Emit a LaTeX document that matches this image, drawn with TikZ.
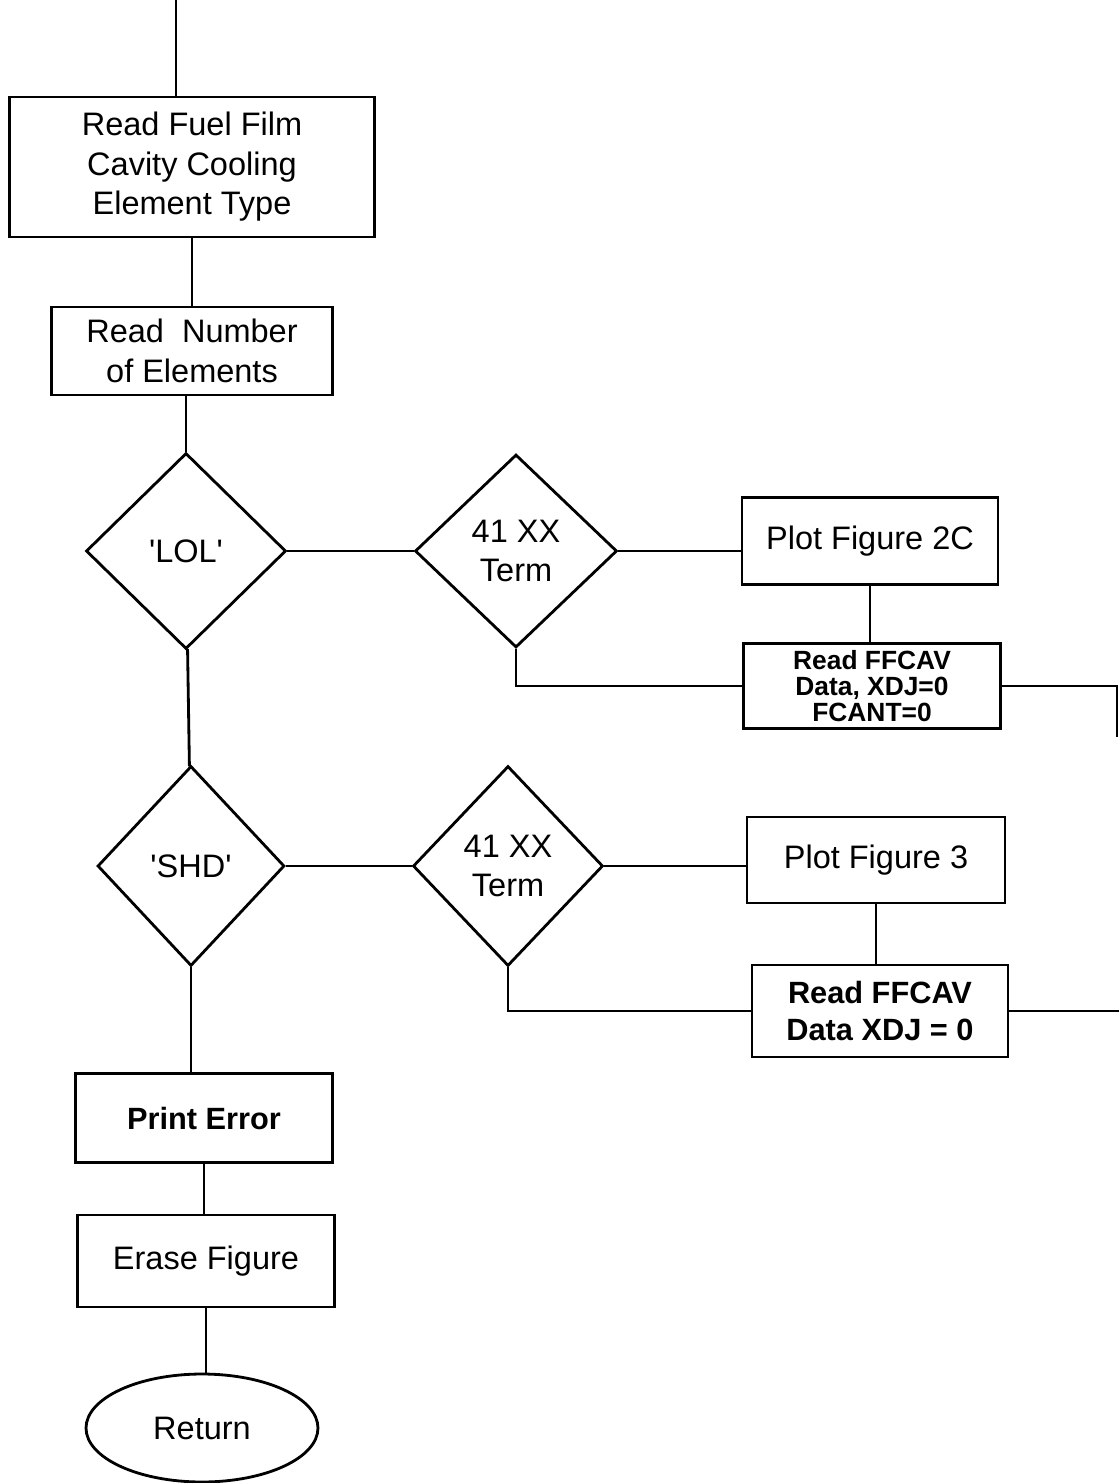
\documentclass[tikz,border=0pt]{standalone}
\usepackage{fontspec}
\setmainfont{Liberation Sans}
\usetikzlibrary{shapes.geometric}

\begin{document}
\begin{tikzpicture}[
        x=0.02cm, y=-0.02cm,
        every node/.style={font=\fontsize{18.5}{22.5}\selectfont},
        knoten/.style={draw, line width=1.6pt, inner sep=2pt, align=center},
        fett/.style={knoten, font=\bfseries\fontsize{17.5}{21.5}\selectfont},
        eng/.style={knoten, font=\bfseries\fontsize{15}{15}\selectfont, inner sep=1pt},
        raute/.style={knoten, diamond, inner sep=0pt},
        ende/.style={knoten, ellipse},
        kante/.style={draw, line width=1.6pt}
    ]
        \useasboundingbox (0,0) rectangle (1119,1483);

        \coordinate (ein) at (176,0);
        \node[knoten, minimum width=7.3cm, minimum height=2.8cm] (typ) at (192,167) {Read Fuel Film\\Cavity Cooling\\Element Type};
        \node[knoten, minimum width=5.62cm, minimum height=1.76cm] (anz) at (192,351) {Read~ Number\\of Elements};
        \node[raute, minimum width=4cm, minimum height=3.92cm] (lol) at (186,551) {\textquotesingle LOL\textquotesingle};
        \node[raute, minimum width=4.04cm, minimum height=3.86cm] (t1) at (516,551) {41 XX\\Term};
        \node[knoten, minimum width=5.12cm, minimum height=1.74cm] (p2c) at (870,541) {Plot Figure 2C};
        \node[eng, minimum width=5.14cm, minimum height=1.7cm] (rf1) at (872,686) {Read FFCAV\\Data, XDJ=0\\FCANT=0};
        \coordinate (aus1) at (1117,686);
        \coordinate (aus1u) at (1117,737);

        \node[raute, minimum width=3.74cm, minimum height=4cm] (shd) at (191,866) {\textquotesingle SHD\textquotesingle};
        \node[raute, minimum width=3.8cm, minimum height=4cm] (t2) at (508,866) {41 XX\\Term};
        \node[knoten, minimum width=5.16cm, minimum height=1.72cm] (p3) at (876,860) {Plot Figure 3};
        \node[fett, minimum width=5.12cm, minimum height=1.84cm] (rf2) at (880,1011) {Read FFCAV\\Data XDJ = 0};
        \coordinate (aus2) at (1119,1011);

        \node[fett, minimum width=5.14cm, minimum height=1.78cm] (err) at (204,1118) {Print Error};
        \node[knoten, minimum width=5.14cm, minimum height=1.84cm] (ers) at (206,1261) {Erase Figure};
        \node[ende, minimum width=4.64cm, minimum height=2.16cm] (ret) at (202,1428) {Return};

        \draw[kante] (ein) -- (ein |- typ.north);
        \draw[kante] (lol.north) -- (lol.north |- anz.south);
        \draw[kante] (lol) -- (shd);
        \foreach \a/\b in {typ/anz, shd/err, err/ers, ers/ret, p2c/rf1, p3/rf2}
            \draw[kante] (\a.south) -- (\a.south |- \b.north);
        \draw[kante] (lol) -- (t1);
        \draw[kante] (shd) -- (t2);
        \draw[kante] (t1.east) -- (t1.east -| p2c.west);
        \draw[kante] (t2.east) -- (t2.east -| p3.west);
        \draw[kante] (t1.south) |- (rf1.west);
        \draw[kante] (t2.south) |- (rf2.west);
        \draw[kante] (rf1.east) -- (aus1) -- (aus1u);
        \draw[kante] (rf2.east) -- (aus2);
    \end{tikzpicture}
\end{document}
